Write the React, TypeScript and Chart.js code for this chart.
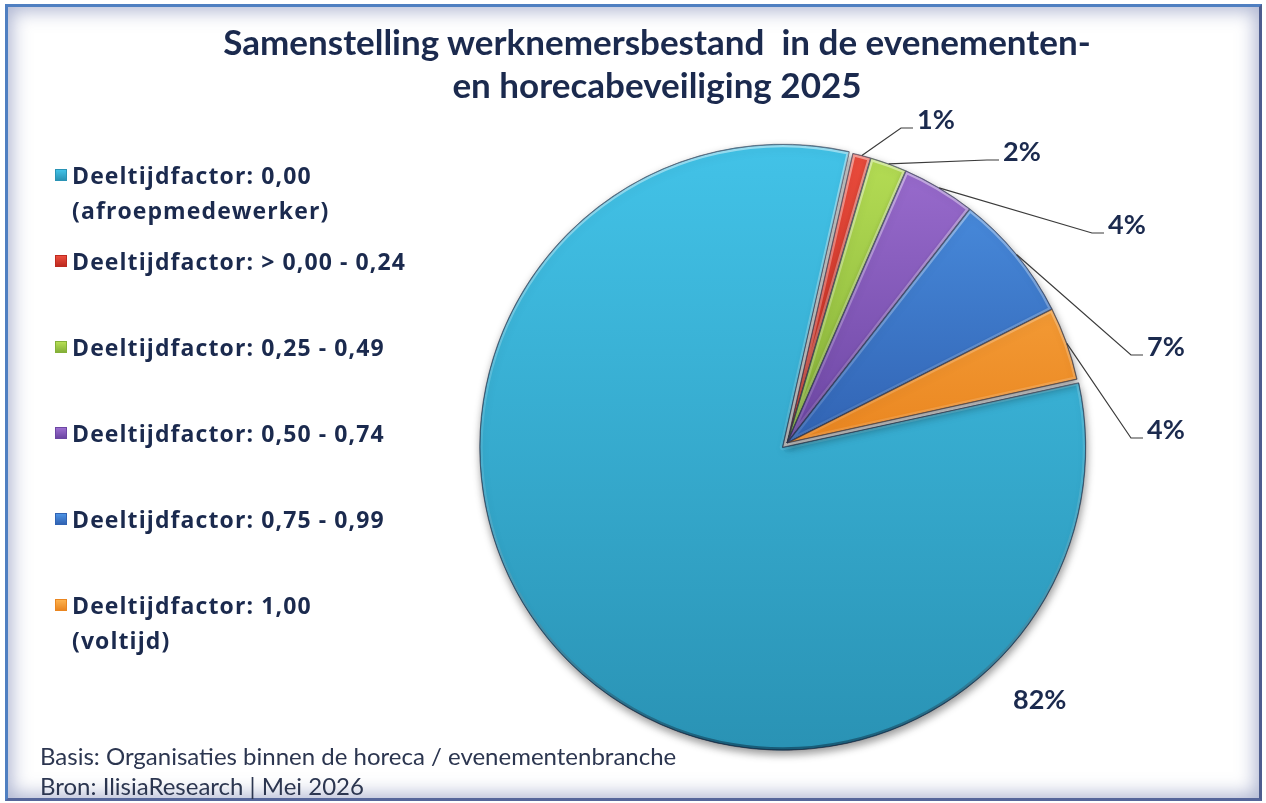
import React, { useEffect, useRef } from 'react';
import { Chart, registerables } from 'chart.js';

Chart.register(...registerables);

// ---------- data ----------
const titleLines = ['Samenstelling werknemersbestand  in de evenementen-', 'en horecabeveiliging 2025'];
const categories: string[][] = [
  ['Deeltijdfactor: 0,00', '(afroepmedewerker)'],
  ['Deeltijdfactor: > 0,00 - 0,24'],
  ['Deeltijdfactor: 0,25 - 0,49'],
  ['Deeltijdfactor: 0,50 - 0,74'],
  ['Deeltijdfactor: 0,75 - 0,99'],
  ['Deeltijdfactor: 1,00', '(voltijd)'],
];
const shares = [82, 1, 2, 4, 7, 4];
const footnotes = ['Basis: Organisaties binnen de horeca / evenementenbranche', 'Bron: IlisiaResearch | Mei 2026'];

// ---------- styles ----------
const sliceLight = ['#42c2e7', '#ec4d3d', '#b6de55', '#9c6ed0', '#4d93e4', '#fdb24e'];
const sliceDark = ['#2a93b5', '#bd2a20', '#84b038', '#6c46a3', '#3163b3', '#ea8620'];
const explode = [24, 0, 0, 0, 0, 0];
const labelOffsets: number[][] = [[226, 257], [130, -323], [216, -291], [321, -218], [360, -96], [360, -13]];
const showLeader = [false, true, true, true, true, true];
const textColor = '#1b2a4e';

const bevelPlugin = {
  id: 'bevel',
  beforeDatasetsDraw(chart: any) {
    const ctx = chart.ctx;
    ctx.save();
    ctx.shadowColor = 'rgba(0,0,0,0.42)';
    ctx.shadowBlur = 8;
    ctx.shadowOffsetX = 1;
    ctx.shadowOffsetY = 4;
  },
  afterDatasetsDraw(chart: any) {
    const ctx = chart.ctx;
    ctx.restore();
    const meta = chart.getDatasetMeta(0);
    meta.data.forEach((arc: any) => {
      const p = arc.getProps(['x', 'y', 'startAngle', 'endAngle', 'outerRadius', 'circumference'], true);
      const off = (arc.options.offset || 0) / 4;
      const mid = (p.startAngle + p.endAngle) / 2;
      const fix = 1 - Math.sin(Math.min(Math.PI, p.circumference || 0));
      const cx = p.x + Math.cos(mid) * off;
      const cy = p.y + Math.sin(mid) * off;
      const R = p.outerRadius + off * fix;
      ctx.save();
      ctx.beginPath();
      ctx.moveTo(cx, cy);
      ctx.arc(cx, cy, R, p.startAngle, p.endAngle);
      ctx.closePath();
      ctx.clip();
      const g = ctx.createLinearGradient(0, cy - R, 0, cy + R);
      g.addColorStop(0, 'rgba(255,255,255,0.45)');
      g.addColorStop(0.5, 'rgba(255,255,255,0.1)');
      g.addColorStop(1, 'rgba(0,25,45,0.45)');
      ctx.strokeStyle = g;
      ctx.lineWidth = 6;
      ctx.lineJoin = 'round';
      ctx.stroke();
      ctx.strokeStyle = 'rgba(25,35,60,0.55)';
      ctx.lineWidth = 1.5;
      ctx.stroke();
      ctx.restore();
    });
  },
};

const labelPlugin = {
  id: 'pctLabels',
  afterDraw(chart: any) {
    const ctx = chart.ctx;
    const meta = chart.getDatasetMeta(0);
    ctx.save();
    ctx.font = 'bold 27px Lato';
    ctx.fillStyle = textColor;
    ctx.textBaseline = 'middle';
    ctx.textAlign = 'left';
    meta.data.forEach((arc: any, i: number) => {
      const p = arc.getProps(['x', 'y', 'startAngle', 'endAngle', 'outerRadius'], true);
      const tx = p.x + labelOffsets[i][0];
      const ty = p.y + labelOffsets[i][1];
      if (showLeader[i]) {
        const mid = (p.startAngle + p.endAngle) / 2;
        const ax = p.x + Math.cos(mid) * p.outerRadius;
        const ay = p.y + Math.sin(mid) * p.outerRadius;
        ctx.beginPath();
        ctx.moveTo(ax, ay);
        ctx.lineTo(tx - 16, ty + 8);
        ctx.lineTo(tx - 4, ty + 8);
        ctx.strokeStyle = '#3b3b3b';
        ctx.lineWidth = 1.2;
        ctx.stroke();
      }
      ctx.fillText(shares[i] + '%', tx, ty);
    });
    ctx.restore();
  },
};

export default function App() {
  const canvasRef = useRef<HTMLCanvasElement | null>(null);

  useEffect(() => {
    const canvas = canvasRef.current;
    if (!canvas) return;
    const R = 297;
    const chart = new Chart(canvas, {
      type: 'pie',
      data: {
        labels: categories,
        datasets: [
          {
            data: shares,
            backgroundColor: (context: any) => {
              const i = context.dataIndex;
              const { ctx, chartArea } = context.chart;
              if (!chartArea) return sliceLight[i];
              const cy = (chartArea.top + chartArea.bottom) / 2;
              const g = i === 0
                ? ctx.createLinearGradient(0, cy - R, 0, cy + R)
                : ctx.createLinearGradient(0, cy - R, 0, cy);
              g.addColorStop(0, sliceLight[i]);
              g.addColorStop(1, sliceDark[i]);
              return g;
            },
            borderColor: 'rgba(25,35,60,0.55)',
            borderWidth: 1,
            offset: explode,
          },
        ],
      },
      options: {
        responsive: false,
        animation: false,
        events: [],
        rotation: 77.6,
        radius: R,
        layout: { padding: { left: 488, right: 180, top: 123, bottom: 40 } },
        plugins: {
          legend: { display: false },
          title: { display: false },
          tooltip: { enabled: false },
        },
      } as any,
      plugins: [bevelPlugin, labelPlugin],
    });
    let alive = true;
    if ((document as any).fonts && (document as any).fonts.load) {
      (document as any).fonts.load('bold 27px Lato').then(() => {
        if (alive) chart.draw();
      });
    }
    return () => {
      alive = false;
      chart.destroy();
    };
  }, []);

  return (
    <div
      style={{
        position: 'absolute',
        left: 0,
        top: 0,
        width: 1266,
        height: 803,
        background: '#ffffff',
        overflow: 'hidden',
      }}
    >
      <div
        style={{
          position: 'absolute',
          left: 5,
          top: 4,
          width: 1257,
          height: 797,
          boxSizing: 'border-box',
          borderStyle: 'solid',
          borderWidth: 3,
          borderColor: '#4f7fc1 #4d5d8e #56669a #4f7fc1',
          boxShadow: 'inset 0 0 18px 4px rgba(95,110,165,0.5)',
        }}
      />
      <canvas
        ref={canvasRef}
        width={1266}
        height={803}
        style={{ position: 'absolute', left: 0, top: 0, width: 1266, height: 803 }}
      />
      <div
        style={{
          position: 'absolute',
          left: 157,
          top: 20,
          width: 1000,
          textAlign: 'center',
          fontFamily: 'Lato, sans-serif',
          fontWeight: 700,
          fontSize: 35,
          lineHeight: '43px',
          color: textColor,
          whiteSpace: 'pre',
        }}
      >
        {titleLines.map((t, i) => (
          <div key={i}>{t}</div>
        ))}
      </div>
      <div
        style={{
          position: 'absolute',
          left: 55,
          top: 158,
          fontFamily: '"Open Sans", sans-serif',
          fontWeight: 700,
          fontSize: 23,
          letterSpacing: '1.1px',
          lineHeight: '35px',
          color: textColor,
        }}
      >
        {categories.map((lines, i) => (
          <div key={i} style={{ position: 'relative', height: 86, paddingLeft: 17 }}>
            <span
              style={{
                position: 'absolute',
                left: 0,
                top: 11,
                width: 12,
                height: 12,
                boxSizing: 'border-box',
                border: '1px solid ' + sliceDark[i],
                background: `linear-gradient(to bottom, ${sliceLight[i]}, ${sliceDark[i]})`,
              }}
            />
            {lines.map((l, j) => (
              <div key={j} style={{ whiteSpace: 'nowrap' }}>{l}</div>
            ))}
          </div>
        ))}
      </div>
      <div
        style={{
          position: 'absolute',
          left: 40,
          top: 741,
          fontFamily: 'Lato, sans-serif',
          fontSize: 24,
          lineHeight: '30px',
          color: '#2c3650',
          whiteSpace: 'nowrap',
        }}
      >
        {footnotes.map((t, i) => (
          <div key={i}>{t}</div>
        ))}
      </div>
    </div>
  );
}
